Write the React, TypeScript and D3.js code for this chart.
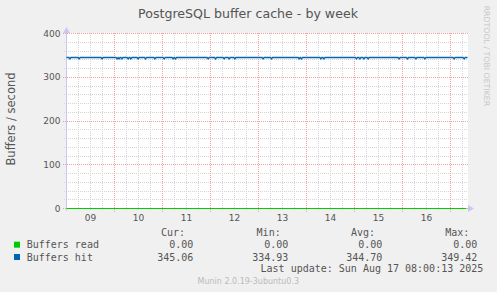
import React from "react";
import * as d3 from "d3";

const W = 497;
const H = 292;

const title = "PostgreSQL buffer cache - by week";
const yLabel = "Buffers / second";
const yTicks = [0, 100, 200, 300, 400];
const yMinorStep = 20;
const dayLabels = ["09", "10", "11", "12", "13", "14", "15", "16"];
const startTime = new Date(2025, 7, 9, 0, 0, 0);
const endTime = new Date(2025, 7, 17, 8, 0, 0);

// Buffers read: flat at zero
const readHours = [0, 200];
const readValues = [0, 0];

// Buffers hit: near-constant baseline with small dips (hour offset from start, value)
const hitBaseline = 345.1;
const hitDipHours = [1.7, 6.3, 17.8, 25.3, 26.3, 27.7, 30.8, 32.2, 35.8, 39.5, 44.2, 48.8, 53.3, 54.5, 70.8, 74.5, 78.8, 81.3, 84.2, 98.3, 102.5, 116.3, 117.5, 127.2, 128.7, 145, 146.7, 148.7, 150.8, 166.3, 170.5, 174.7, 179.2, 193.8, 198.8];
const hitDipValues = [342, 342, 342, 342, 342, 342, 342, 342, 342, 342, 342, 342, 342, 342, 342, 342, 342, 342, 342, 342, 342, 342, 342, 342, 342, 342, 342, 342, 342, 342, 342, 342, 342, 342, 342];

const legendSeries = ["Buffers read", "Buffers hit"];
const legendColors = ["#00CC00", "#0066B3"];
const legendCur = ["0.00", "345.06"];
const legendMin = ["0.00", "334.93"];
const legendAvg = ["0.00", "344.70"];
const legendMax = ["0.00", "349.42"];
const lastUpdate = "Last update: Sun Aug 17 08:00:13 2025";
const footer = "Munin 2.0.19-3ubuntu0.3";
const watermark = "RRDTOOL / TOBI OETIKER";

export default function App() {
  const px0 = 66.5;
  const px1 = 466.5;
  const plotRight = 468;
  const x = d3.scaleTime().domain([startTime, endTime]).range([px0, px1]);
  const y = d3.scaleLinear().domain([0, 400]).range([208.5, 33.5]);
  const hourToDate = (h: number) => new Date(startTime.getTime() + h * 3600 * 1000);

  const hitPts: [number, number][] = [[0, hitBaseline]];
  hitDipHours.forEach((h, i) => {
    hitPts.push([h - 0.5, hitBaseline]);
    hitPts.push([h, hitDipValues[i]]);
    hitPts.push([h + 0.5, hitBaseline]);
  });
  hitPts.push([200.5, hitBaseline]);
  const readPts: [number, number][] = readHours.map((h, i) => [h, readValues[i]]);

  const line = d3
    .line<[number, number]>()
    .x((d) => x(hourToDate(d[0])))
    .y((d) => y(d[1]));

  const majorX = d3.timeDay.range(d3.timeDay.offset(startTime, 1), endTime);
  const majorSet = new Set(majorX.map((t) => t.getTime()));
  const minorX = d3.timeHour.every(6)!.range(startTime, endTime).filter((t) => !majorSet.has(t.getTime()));
  const minorY = d3.range(0, 401, yMinorStep).filter((v) => !yTicks.includes(v));
  const snap = (v: number) => Math.floor(v) + 0.5;

  const textColor = "#555";
  const sans = "'DejaVu Sans', sans-serif";
  const mono = "'DejaVu Sans Mono', monospace";
  const rowY = [248.2, 260.5];

  return (
    <svg width={W} height={H} style={{ position: "absolute", left: 0, top: 0 }}>
      <rect x={0} y={0} width={W} height={H} fill="#F0F0F0" />
      <rect x={67} y={33} width={plotRight - 67} height={176} fill="#FFFFFF" />
      {/* minor grid */}
      {minorY.map((v) => (
        <line key={"my" + v} x1={64} x2={plotRight} y1={snap(y(v))} y2={snap(y(v))} stroke="#d4d4d4" strokeDasharray="1,1" />
      ))}
      {minorX.map((t) => (
        <line key={"mx" + t.getTime()} x1={snap(x(t))} x2={snap(x(t))} y1={33} y2={211} stroke="#d4d4d4" strokeDasharray="1,1" />
      ))}
      {/* major grid */}
      {yTicks.map((v) => (
        <line key={"My" + v} x1={63} x2={plotRight} y1={snap(y(v))} y2={snap(y(v))} stroke="#f4a0a0" strokeDasharray="1,1" />
      ))}
      {majorX.map((t) => (
        <line key={"Mx" + t.getTime()} x1={snap(x(t))} x2={snap(x(t))} y1={33} y2={212} stroke="#f4a0a0" strokeDasharray="1,1" />
      ))}
      {/* axes */}
      <line x1={66.5} x2={66.5} y1={30} y2={211} stroke="#c8c8ee" />
      <path d="M63,33 L66.5,27 L70,33 Z" fill="#c8c8f4" />
      <path d="M468,205 L474,208.5 L468,212 Z" fill="#c8c8f4" />
      {/* series */}
      <path d={line(readPts) || ""} fill="none" stroke={legendColors[0]} strokeWidth={1.2} />
      <path d={line(hitPts) || ""} fill="none" stroke={legendColors[1]} strokeWidth={1.3} />
      {/* y ticks */}
      {yTicks.map((v) => (
        <text key={"yt" + v} x={60.5} y={y(v) + 3.2} textAnchor="end" fontFamily={sans} fontSize={9} fill={textColor}>
          {v}
        </text>
      ))}
      {/* x labels */}
      {majorX.map((t, i) => {
        const mid = new Date(t.getTime() - 12 * 3600 * 1000);
        return (
          <text key={"xl" + i} x={x(mid)} y={221} textAnchor="middle" fontFamily={sans} fontSize={9} fill={textColor}>
            {dayLabels[i]}
          </text>
        );
      })}
      {/* title */}
      <text x={248} y={18} textAnchor="middle" fontFamily={sans} fontSize={12.6} fill={textColor}>
        {title}
      </text>
      <text transform="translate(15,119) rotate(-90)" textAnchor="middle" fontFamily={sans} fontSize={11.5} fill={textColor}>
        {yLabel}
      </text>
      <text transform="translate(484,5.7) rotate(90)" textAnchor="start" fontFamily={sans} fontSize={7.8} fill="#c8c8c8">
        {watermark}
      </text>
      {/* legend */}
      <g fontFamily={mono} fontSize={10} fill={textColor}>
        <text x={185} y={235.8} textAnchor="end">Cur:</text>
        <text x={280.7} y={235.8} textAnchor="end">Min:</text>
        <text x={375} y={235.8} textAnchor="end">Avg:</text>
        <text x={469.3} y={235.8} textAnchor="end">Max:</text>
        {legendSeries.map((s, i) => (
          <g key={s}>
            <rect x={14} y={rowY[i] - 6.5} width={6} height={6} fill={legendColors[i]} />
            <text x={26.7} y={rowY[i]}>{s}</text>
            <text x={193.3} y={rowY[i]} textAnchor="end">{legendCur[i]}</text>
            <text x={288.3} y={rowY[i]} textAnchor="end">{legendMin[i]}</text>
            <text x={382.3} y={rowY[i]} textAnchor="end">{legendAvg[i]}</text>
            <text x={477.3} y={rowY[i]} textAnchor="end">{legendMax[i]}</text>
          </g>
        ))}
        <text x={483.3} y={272.2} textAnchor="end">{lastUpdate}</text>
      </g>
      <text x={248.3} y={284} textAnchor="middle" fontFamily={sans} fontSize={8} fill="#bbbbbb">
        {footer}
      </text>
    </svg>
  );
}
